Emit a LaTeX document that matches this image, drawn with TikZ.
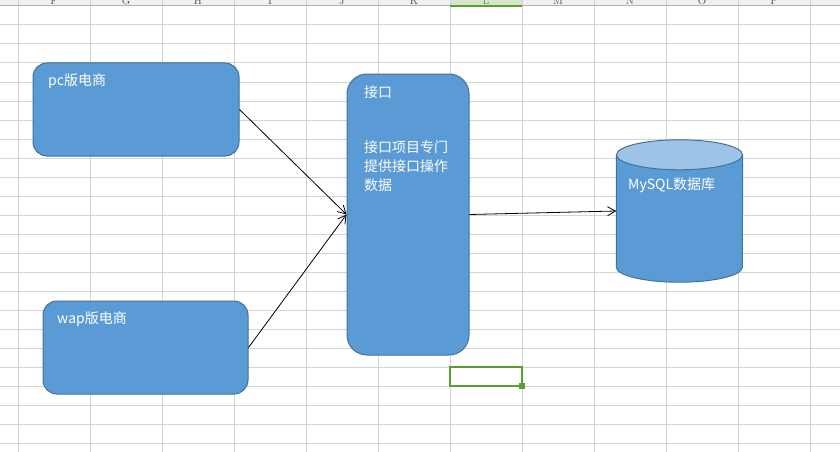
\documentclass[tikz,border=0pt]{standalone}
\usepackage{fontspec}
\newfontfamily\cjk{Noto Sans CJK SC}
\usepackage{tikz}
\usetikzlibrary{arrows.meta,calc}
\definecolor{boxblue}{HTML}{5B9BD5}
\definecolor{boxedge}{HTML}{41719C}
\definecolor{lidblue}{HTML}{9DC3E6}
\definecolor{gridgray}{HTML}{D4D4D4}
\definecolor{headgray}{HTML}{F0F0F0}
\definecolor{selgreen}{HTML}{5A9E32}
\definecolor{selhead}{HTML}{D5E6CB}

\begin{document}
\begin{tikzpicture}[x=1pt,y=-1pt,
  gridline/.style={gridgray,line width=1pt},
  bluebox/.style={draw=boxedge,fill=boxblue,line width=1pt,rounded corners=14pt,inner sep=0pt},
  boxtext/.style={font=\cjk\fontsize{14}{19}\selectfont,text=white,inner sep=0pt,anchor=west,align=left},
  colhead/.style={font=\fontsize{11}{11}\selectfont,text=black!70,anchor=base,inner sep=0pt},
  link/.style={-{Straight Barb[length=8pt,width=9pt]},line width=0.8pt}]
\useasboundingbox (0,0) rectangle (840,452);
\fill[white] (0,0) rectangle (840,452);

% sheet grid
\foreach \gx in {18,90,...,810}
  \draw[gridline] (\gx,0) -- (\gx,452);
\foreach \gy in {25,44,...,443}
  \draw[gridline] (0,\gy) -- (840,\gy);

% column header strip
\fill[headgray] (0,0) rectangle (840,6);
\fill[selhead] (450,0) rectangle (522,6);
\foreach \gx in {18,90,...,810}
  \draw[gridline] (\gx,0) -- (\gx,6);
\begin{scope}
\clip (0,0) rectangle (840,6);
\node[colhead] (headF) at (54,4.5) {F};
\node[colhead] (headG) at (126,4.5) {G};
\node[colhead] (headH) at (198,4.5) {H};
\node[colhead] (headI) at (270,4.5) {I};
\node[colhead] (headJ) at (342,4.5) {J};
\node[colhead] (headK) at (414,4.5) {K};
\node[colhead,text=selgreen] (headL) at (486,4.5) {L};
\node[colhead] (headM) at (558,4.5) {M};
\node[colhead] (headN) at (630,4.5) {N};
\node[colhead] (headO) at (702,4.5) {O};
\node[colhead] (headP) at (774,4.5) {P};
\end{scope}
\draw[black!30,line width=1pt] (0,6) -- (840,6);
\draw[selgreen,line width=2pt] (450,6) -- (522,6);

% selected cell
\draw[selgreen,line width=2pt] (450,367) rectangle (522,386);
\fill[selgreen] (519,383) rectangle (525,389);

% boxes
\node[bluebox,minimum width=206pt,minimum height=93pt] (pcbox) at (136,109.5) {};
\node[boxtext] (pctext) at (48,81.5) {pc版电商};
\node[bluebox,minimum width=205pt,minimum height=93pt] (wapbox) at (145.5,347.5) {};
\node[boxtext] (waptext) at (57,319.5) {wap版电商};
\node[bluebox,rounded corners=20pt,minimum width=122pt,minimum height=281pt] (apibox) at (408,214.5) {};
\node[boxtext] (apititle) at (364,92.5) {接口};
\node[boxtext,anchor=north west] (apidesc) at (364,141) {接口项目专门\\提供接口操作\\数据};

% database cylinder
\node[minimum width=126pt,minimum height=112pt,inner sep=0pt] (db) at (679.5,211) {};
\draw[draw=boxedge,fill=boxblue,line width=1pt] (db.north west) -- (db.south west)
  arc[start angle=180,end angle=360,x radius=63pt,y radius=15pt] -- (db.north east);
\draw[draw=boxedge,fill=lidblue,line width=1pt] (db.north) ellipse[x radius=63pt,y radius=15pt];
\node[boxtext] (dbtext) at (628,185) {MySQL数据库};

% connectors
\draw[link] (pcbox.east) -- (apibox.west);
\draw[link] (wapbox.east) -- (apibox.west);
\draw[link] (apibox.east) -- (db.west);
\end{tikzpicture}
\end{document}
